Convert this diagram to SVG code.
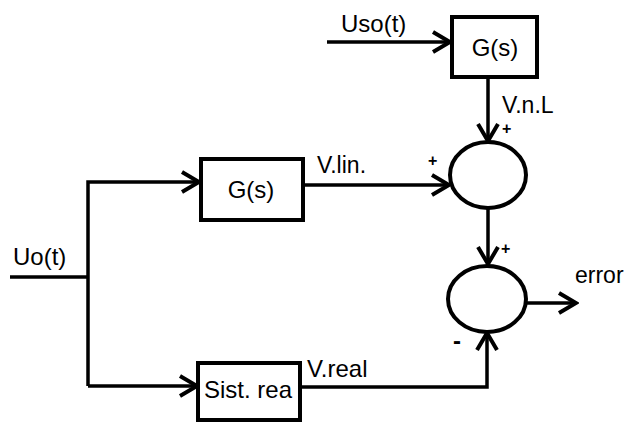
<svg xmlns="http://www.w3.org/2000/svg" width="627" height="422" viewBox="0 0 627 422">
<style>
.box{fill:#fff;stroke:#000;stroke-width:4}
.sum{fill:none;stroke:#000;stroke-width:4}
.ln{fill:none;stroke:#000;stroke-width:3.5;stroke-linejoin:miter}
text{font-family:"Liberation Sans",Arial,sans-serif;fill:#000}
.t{font-size:24px}
.l{font-size:23px}
.s{font-size:16px;font-weight:bold}
</style>
<defs>
<marker id="arr" markerUnits="userSpaceOnUse" markerWidth="22" markerHeight="24" refX="19" refY="12" orient="auto" viewBox="0 0 22 24">
<path d="M2,2 L19,12 L2,22" fill="none" stroke="#000" stroke-width="4"/>
</marker>
</defs>
<rect width="627" height="422" fill="#fff"/>
<g id="connectors">
<path class="ln" d="M327,42 H450" marker-end="url(#arr)"/>
<path class="ln" d="M488,77 V141" marker-end="url(#arr)"/>
<path class="ln" d="M303,185 H449" marker-end="url(#arr)"/>
<path class="ln" d="M488,208 V264" marker-end="url(#arr)"/>
<path class="ln" d="M526,303 H576" marker-end="url(#arr)"/>
<path class="ln" d="M300,387 H487 V333" marker-end="url(#arr)"/>
<path class="ln" d="M10,277 H88"/>
<path class="ln" d="M88,386 V182 H199" marker-end="url(#arr)"/>
<path class="ln" d="M88,386 H197" marker-end="url(#arr)"/>
</g>
<g id="gs-top">
<rect class="box" x="452" y="17" width="85" height="60"/>
<text class="t" x="495" y="56" text-anchor="middle">G(s)</text>
</g>
<g id="gs-mid">
<rect class="box" x="201" y="159" width="102" height="61"/>
<text class="t" x="251" y="198" text-anchor="middle">G(s)</text>
</g>
<g id="sist-real">
<rect class="box" x="198" y="363" width="102" height="57"/>
<text class="t" x="204" y="398">Sist. rea</text>
</g>
<g id="sum1">
<ellipse class="sum" cx="488" cy="175" rx="38" ry="33"/>
</g>
<g id="sum2">
<ellipse class="sum" cx="487" cy="299" rx="39" ry="33"/>
</g>
<g id="labels">
<text class="t" x="341" y="32">Uso(t)</text>
<text class="l" x="502" y="113">V.n.L</text>
<text class="s" x="502" y="134">+</text>
<text class="l" x="317" y="173">V.lin.</text>
<text class="s" x="428" y="166">+</text>
<text class="s" x="501" y="254">+</text>
<text class="l" x="575" y="283">error</text>
<text class="t" x="13" y="265">Uo(t)</text>
<text class="t" x="307" y="377">V.real</text>
<text x="453" y="349" style="font-size:24px;font-weight:bold">-</text>
</g>
</svg>
